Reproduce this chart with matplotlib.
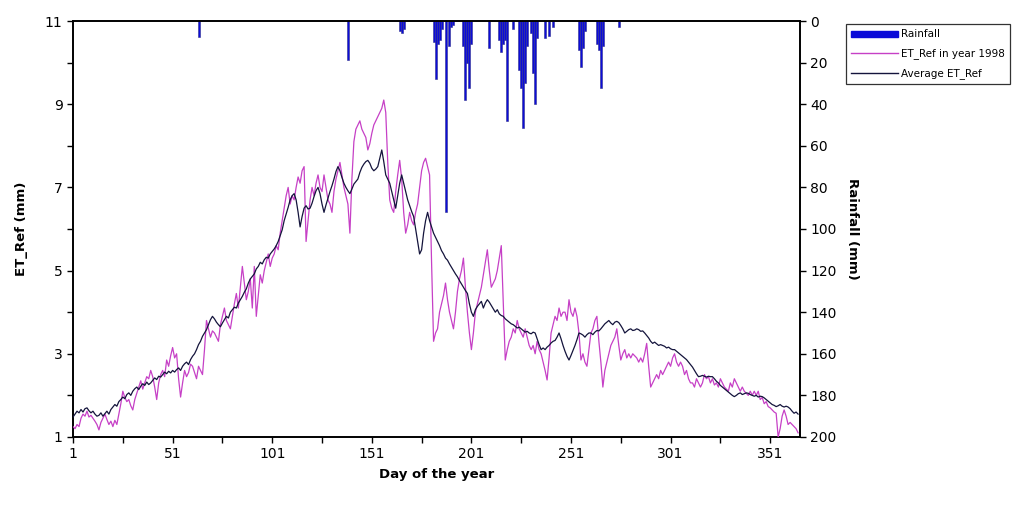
import numpy as np
import matplotlib
matplotlib.use("Agg")
import matplotlib.pyplot as plt
from matplotlib.patches import Patch
from matplotlib.lines import Line2D

# average ET_Ref (mm), day 1..365
et_avg = [
    1.48, 1.55, 1.62, 1.58, 1.66, 1.60, 1.68, 1.70, 1.63, 1.58,
    1.62, 1.55, 1.50, 1.52, 1.58, 1.50, 1.56, 1.62, 1.55, 1.66,
    1.72, 1.78, 1.74, 1.85, 1.90, 1.96, 1.92, 2.02, 2.06, 2.00,
    2.10, 2.16, 2.20, 2.14, 2.22, 2.28, 2.24, 2.32, 2.26, 2.30,
    2.36, 2.42, 2.38, 2.46, 2.44, 2.50, 2.56, 2.52, 2.58, 2.54,
    2.60, 2.56, 2.62, 2.66, 2.60, 2.70, 2.76, 2.80, 2.74, 2.86,
    2.94, 3.00, 3.10, 3.22, 3.30, 3.42, 3.50, 3.58, 3.70, 3.82,
    3.90, 3.84, 3.76, 3.70, 3.65, 3.74, 3.82, 3.90, 3.86, 4.00,
    4.06, 4.12, 4.10, 4.22, 4.30, 4.38, 4.48, 4.56, 4.70, 4.80,
    4.86, 4.92, 5.04, 5.10, 5.20, 5.16, 5.26, 5.32, 5.30, 5.40,
    5.46, 5.52, 5.60, 5.70, 5.84, 5.98, 6.20, 6.36, 6.52, 6.70,
    6.80, 6.85, 6.70, 6.40, 6.05, 6.30, 6.50, 6.56, 6.48, 6.50,
    6.62, 6.78, 6.92, 7.00, 6.85, 6.60, 6.40, 6.58, 6.74, 6.90,
    7.04, 7.20, 7.38, 7.50, 7.40, 7.24, 7.10, 7.00, 6.92, 6.85,
    6.96, 7.08, 7.14, 7.20, 7.36, 7.48, 7.56, 7.62, 7.65, 7.58,
    7.46, 7.40, 7.44, 7.50, 7.70, 7.90, 7.62, 7.30, 7.20, 7.10,
    6.90, 6.70, 6.50, 6.80, 7.10, 7.30, 7.10, 6.90, 6.70, 6.56,
    6.42, 6.30, 6.00, 5.70, 5.40, 5.50, 5.90, 6.20, 6.40, 6.20,
    6.05, 5.90, 5.80, 5.70, 5.60, 5.48, 5.40, 5.30, 5.25, 5.16,
    5.08, 5.00, 4.92, 4.85, 4.76, 4.68, 4.60, 4.52, 4.45, 4.20,
    4.00, 3.90, 4.06, 4.14, 4.20, 4.26, 4.10, 4.22, 4.30, 4.24,
    4.16, 4.08, 4.00, 4.06, 3.96, 3.92, 3.90, 3.84, 3.80, 3.76,
    3.72, 3.70, 3.66, 3.62, 3.64, 3.60, 3.56, 3.52, 3.54, 3.50,
    3.48, 3.52, 3.50, 3.36, 3.22, 3.10, 3.14, 3.10, 3.16, 3.20,
    3.26, 3.30, 3.32, 3.40, 3.50, 3.36, 3.20, 3.06, 2.94, 2.85,
    2.96, 3.08, 3.20, 3.34, 3.50, 3.48, 3.45, 3.40, 3.46, 3.50,
    3.50, 3.46, 3.52, 3.56, 3.55, 3.60, 3.66, 3.72, 3.76, 3.80,
    3.74, 3.70, 3.76, 3.78, 3.75, 3.68, 3.60, 3.50, 3.54, 3.58,
    3.60, 3.56, 3.57, 3.60, 3.58, 3.54, 3.55, 3.50, 3.44, 3.38,
    3.30, 3.25, 3.28, 3.24, 3.20, 3.22, 3.20, 3.18, 3.14, 3.16,
    3.12, 3.10, 3.10, 3.06, 3.02, 2.98, 2.94, 2.90, 2.86, 2.80,
    2.74, 2.68, 2.60, 2.52, 2.45, 2.46, 2.48, 2.46, 2.44, 2.46,
    2.45, 2.45, 2.40, 2.34, 2.30, 2.24, 2.20, 2.16, 2.12, 2.08,
    2.04, 2.00, 1.97, 2.00, 2.04, 2.06, 2.02, 2.04, 2.06, 2.05,
    2.02, 2.00, 1.98, 2.00, 1.96, 1.98, 1.97, 1.94, 1.90, 1.86,
    1.82, 1.78, 1.76, 1.73, 1.75, 1.78, 1.74, 1.72, 1.74, 1.72,
    1.68, 1.62, 1.57, 1.60, 1.55,
]

# ET_Ref in 1998 (mm), day 1..365
et_1998 = [
    1.25, 1.20, 1.30, 1.25, 1.45, 1.55, 1.50, 1.62, 1.48, 1.52,
    1.45, 1.38, 1.30, 1.17, 1.35, 1.45, 1.55, 1.42, 1.30, 1.38,
    1.25, 1.40, 1.30, 1.55, 1.80, 2.10, 1.95, 1.85, 1.90, 1.75,
    1.65, 1.90, 2.05, 2.20, 2.35, 2.15, 2.30, 2.45, 2.40, 2.60,
    2.45, 2.20, 1.90, 2.30, 2.50, 2.60, 2.45, 2.85, 2.70, 2.95,
    3.15, 2.90, 3.00, 2.40, 1.96, 2.30, 2.60, 2.45, 2.55, 2.75,
    2.70, 2.55, 2.40, 2.70, 2.60, 2.50, 3.10, 3.80, 3.60, 3.40,
    3.55, 3.50, 3.40, 3.30, 3.70, 3.90, 4.10, 3.80, 3.70, 3.60,
    3.90, 4.20, 4.45, 4.10, 4.60, 5.10, 4.70, 4.30, 4.50, 4.80,
    4.10, 5.10, 3.90, 4.40, 4.90, 4.70, 5.00, 5.20, 5.40, 5.10,
    5.30, 5.40, 5.60, 5.50, 5.90, 6.20, 6.50, 6.80, 7.00, 6.60,
    6.80, 6.70, 7.00, 7.25, 7.10, 7.40, 7.50, 5.70, 6.20, 6.70,
    7.00, 6.80, 7.10, 7.30, 7.00, 6.90, 7.30, 7.00, 6.70, 6.60,
    6.40, 6.90, 7.20, 7.40, 7.60, 7.30, 7.00, 6.80, 6.60, 5.90,
    7.20, 8.10, 8.40, 8.50, 8.60, 8.40, 8.30, 8.20, 7.90, 8.05,
    8.30, 8.50, 8.60, 8.70, 8.80, 8.90, 9.10, 8.80, 7.60, 6.70,
    6.50, 6.40, 6.90, 7.30, 7.65, 7.20, 6.40, 5.90, 6.10, 6.40,
    6.20, 6.10, 6.40, 6.60, 7.00, 7.40, 7.60, 7.70, 7.50, 7.30,
    5.20, 3.30, 3.50, 3.60, 4.00, 4.20, 4.40, 4.70, 4.30, 4.00,
    3.80, 3.60, 4.00, 4.50, 4.80, 5.00, 5.30, 4.60, 4.00, 3.50,
    3.10, 3.50, 4.00, 4.20, 4.40, 4.60, 4.90, 5.20, 5.50, 5.00,
    4.60, 4.70, 4.80, 5.00, 5.30, 5.60, 4.20, 2.85, 3.10, 3.30,
    3.40, 3.60, 3.50, 3.80, 3.60, 3.50, 3.40, 3.60, 3.40, 3.20,
    3.10, 3.20, 3.00, 3.30, 3.10, 3.00, 2.80, 2.60, 2.37, 2.90,
    3.50, 3.70, 3.90, 3.80, 4.10, 3.90, 4.00, 4.00, 3.80, 4.30,
    4.00, 3.90, 4.10, 3.90, 3.50, 2.85, 3.00, 2.80, 2.70, 3.10,
    3.50, 3.60, 3.80, 3.90, 3.30, 2.80, 2.20, 2.60, 2.80, 3.00,
    3.20, 3.30, 3.40, 3.60, 3.20, 2.85, 3.00, 3.10, 2.90, 3.00,
    2.90, 3.00, 2.95, 2.90, 2.80, 2.90, 2.80, 3.00, 3.25, 2.70,
    2.20, 2.30, 2.40, 2.50, 2.40, 2.60, 2.50, 2.60, 2.70, 2.80,
    2.70, 2.90, 3.00, 2.80, 2.70, 2.80, 2.70, 2.50, 2.60, 2.40,
    2.30, 2.30, 2.20, 2.40, 2.30, 2.20, 2.30, 2.50, 2.40, 2.45,
    2.30, 2.40, 2.25, 2.30, 2.20, 2.40, 2.30, 2.20, 2.15, 2.10,
    2.30, 2.20, 2.40, 2.30, 2.20, 2.10, 2.20, 2.10, 2.05, 2.00,
    2.10, 2.00, 2.10, 2.00, 2.10, 1.90, 1.95, 1.80, 1.85, 1.73,
    1.70, 1.65, 1.60, 1.57, 1.00, 1.20, 1.50, 1.65, 1.50, 1.30,
    1.35, 1.30, 1.25, 1.20, 1.10,
]

# rainfall in 1998 (mm)
rain_day = [64, 139, 165, 166, 167, 182, 183, 184, 185, 186, 188, 190, 191, 192,
            197, 198, 199, 200, 201, 210, 215, 216, 217, 218, 219, 222, 225, 226,
            227, 228, 229, 231, 232, 233, 234, 238, 240, 242, 255, 256, 257, 258,
            264, 265, 266, 267, 275]
rain_mm = [7.7, 18.8, 5, 6, 4, 10, 28, 11, 9, 4, 92, 12, 3, 2,
           12, 38, 20, 32, 11, 13, 9, 15, 11, 9, 48, 4, 23.5, 32,
           51.5, 30, 12, 6, 25, 40, 8, 8, 7, 3, 14, 22, 13, 5,
           11, 14, 32, 12, 3]

days = np.arange(1, len(et_avg) + 1)

mag = "#c640c6"
navy = "#14143c"
blue = "#0c0cd8"

fig = plt.figure(figsize=(10.33, 5.05), dpi=100)
ax = fig.add_axes([0.0707, 0.1347, 0.7038, 0.8237])
ax2 = ax.twinx()

ax2.bar(rain_day, rain_mm, width=1.0, color=blue, edgecolor="#30308c", linewidth=0.4)
ax2.set_ylim(200, 0)
ax2.set_yticks(np.arange(0, 201, 20))

ax.plot(days, et_1998, color=mag, lw=0.9, zorder=3)
ax.plot(days, et_avg, color=navy, lw=0.9, zorder=4)
ax.set_zorder(ax2.get_zorder() + 1)
ax.patch.set_visible(False)

ax.set_xlim(1, 366)
ax.set_ylim(1, 11)
ax.set_xticks(np.arange(1, 366, 50))
ax.set_xticks(np.arange(26, 366, 50), minor=True)
ax.set_yticks(np.arange(1, 12, 2))
ax.set_yticks(np.arange(2, 11, 2), minor=True)

for a in (ax, ax2):
    a.tick_params(which="both", direction="out", length=4, width=1, labelsize=10, colors="black")
    for s in a.spines.values():
        s.set_linewidth(1.2)

ax.set_xlabel("Day of the year", fontsize=9.5, fontweight="bold", labelpad=5)
ax.set_ylabel("ET_Ref (mm)", fontsize=9.5, fontweight="bold", labelpad=12)
ax2.set_ylabel("Rainfall (mm)", fontsize=9.5, fontweight="bold", rotation=270, labelpad=16)

handles = [
    Patch(facecolor=blue, edgecolor=blue),
    Line2D([0], [0], color=mag, lw=1),
    Line2D([0], [0], color=navy, lw=1),
]
labels = ["Rainfall", "ET_Ref in year 1998", "Average ET_Ref"]
leg = fig.legend(handles, labels, loc="upper left", bbox_to_anchor=(0.819, 0.952),
                 fontsize=7.5, frameon=True, fancybox=False, edgecolor="black",
                 handlelength=4.5, handleheight=0.5, borderpad=0.5, labelspacing=0.85,
                 handletextpad=0.3, borderaxespad=0)
leg.get_frame().set_linewidth(0.9)

fig.savefig("out.png", dpi=100)
